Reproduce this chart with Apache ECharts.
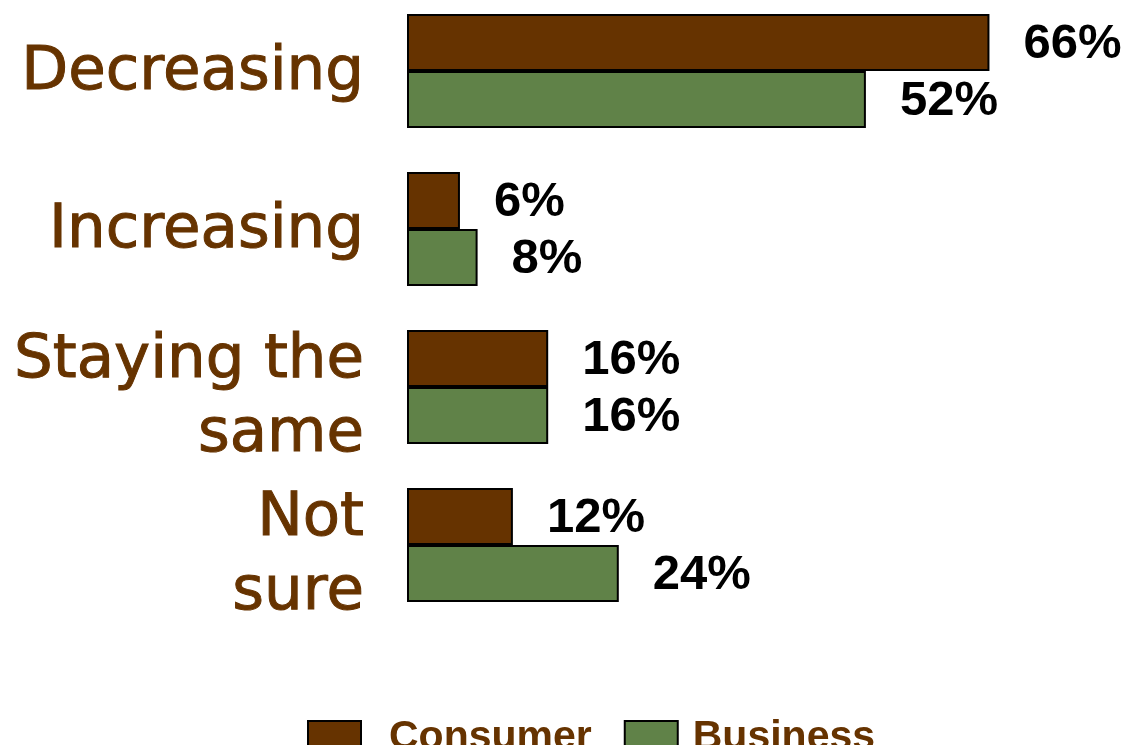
<!DOCTYPE html>
<html>
<head>
<meta charset="utf-8">
<script src="https://cdn.jsdelivr.net/npm/echarts@6/dist/echarts.min.js"></script>
<style>
html,body{margin:0;padding:0;background:#fff;}
#chart{width:1134px;height:745px;}
</style>
</head>
<body>
<div id="chart"></div>
<script>
const categories = ['Decreasing', 'Increasing', 'Staying the\nsame', 'Not\nsure'];
const consumer = [66, 6, 16, 12];
const business = [52, 8, 16, 24];
const seriesNames = ['Consumer', 'Business'];

const BROWN = '#663300';
const GREEN = '#608248';

const catFont = {
  color: BROWN,
  fontSize: 61,
  fontFamily: 'DejaVu Sans, Verdana, sans-serif',
  textBorderColor: BROWN,
  textBorderWidth: 1,
  lineHeight: 74,
  align: 'right'
};

const chart = echarts.init(document.getElementById('chart'));
const labelStyle = {
  show: true,
  position: 'right',
  distance: 34,
  offset: [0, 2],
  formatter: '{c}%',
  color: '#000',
  fontSize: 49,
  fontWeight: 'bold',
  fontFamily: 'Liberation Sans, Arial, sans-serif'
};
const legendText = {
  color: BROWN,
  fontSize: 41,
  fontWeight: 'bold',
  fontFamily: 'Liberation Sans, Arial, sans-serif'
};
chart.setOption({
  animation: false,
  backgroundColor: '#fff',
  grid: { left: 407, top: 71, width: 706, height: 474, containLabel: false },
  legend: {
    data: [
      { name: seriesNames[0], textStyle: Object.assign({}, legendText, { padding: [0, 0, 0, 23] }) },
      { name: seriesNames[1], textStyle: Object.assign({}, legendText, { padding: [0, 0, 0, 10] }) }
    ],
    left: 302,
    top: 712,
    itemWidth: 53,
    itemHeight: 33,
    itemGap: 32,
    icon: 'rect',
    itemStyle: { borderColor: '#000', borderWidth: 2 },
    textStyle: legendText
  },
  xAxis: {
    type: 'value',
    min: 0,
    max: 80,
    show: false
  },
  yAxis: {
    type: 'category',
    data: categories,
    inverse: true,
    boundaryGap: false,
    axisLine: { show: false },
    axisTick: { show: false },
    axisLabel: Object.assign({}, catFont, {
      margin: 43,
      formatter: function (v) {
        if (v.indexOf('\n') >= 0) {
          return v.split('\n').map(function (s) { return '{m|' + s + '}'; }).join('\n');
        }
        return '{s|' + v + '}';
      },
      rich: {
        s: Object.assign({}, catFont, { padding: [4, 0, 0, 0] }),
        m: Object.assign({}, catFont, { padding: [22, 0, 0, 0] })
      }
    })
  },
  series: [
    {
      name: seriesNames[0],
      type: 'bar',
      data: consumer,
      barWidth: 57,
      barGap: '0%',
      itemStyle: { color: BROWN, borderColor: '#000', borderWidth: 2 },
      label: labelStyle
    },
    {
      name: seriesNames[1],
      type: 'bar',
      data: business,
      barWidth: 57,
      barGap: '0%',
      itemStyle: { color: GREEN, borderColor: '#000', borderWidth: 2 },
      label: labelStyle
    }
  ]
});
</script>
</body>
</html>
